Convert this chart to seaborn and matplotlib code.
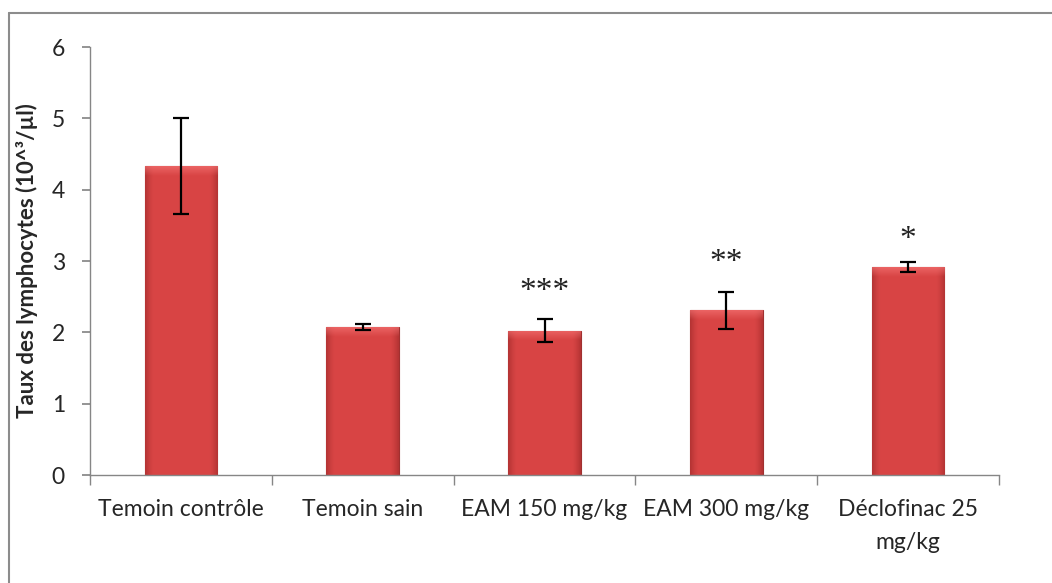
import matplotlib
matplotlib.use("Agg")
import matplotlib.pyplot as plt
import seaborn as sns
import pandas as pd
import numpy as np
from matplotlib.lines import Line2D

categories = ["Temoin contrôle", "Temoin sain", "EAM 150 mg/kg", "EAM 300 mg/kg", "Déclofinac 25\nmg/kg"]
values = [4.33, 2.07, 2.02, 2.31, 2.91]
errors = [0.67, 0.04, 0.16, 0.26, 0.07]
stars = ["", "", "***", "**", "*"]
star_y = [None, None, 2.57, 2.98, 3.3]
yticks = [0, 1, 2, 3, 4, 5, 6]

sns.set_theme(style="white")
plt.rcParams['font.family'] = ['Lato', 'DejaVu Sans']

fig = plt.figure(figsize=(10.52, 5.83), dpi=100)
ax = fig.add_axes([90/1052, 1-475/583, 909/1052, 428/583])

df = pd.DataFrame({"cat": categories, "val": values})
sns.barplot(data=df, x="cat", y="val", ax=ax, width=0.4, color="#D64343",
            edgecolor="#A03030", linewidth=0.8, saturation=1)

# bevel shading clipped to each bar drawn by seaborn
base = np.array([0.85, 0.27, 0.27])
dark = np.array([0.62, 0.16, 0.16])
light = np.array([0.97, 0.47, 0.47])
for p in list(ax.patches):
    x0, w, h = p.get_x(), p.get_width(), p.get_height()
    nx, ny = 60, 400
    xs = np.linspace(0, 1, nx)
    side = np.clip(1 - np.minimum(xs, 1 - xs) / 0.12, 0, 1) ** 1.5
    img = np.tile(base, (ny, nx, 1))
    img = img * (1 - side[None, :, None] * 0.6) + dark * side[None, :, None] * 0.6
    ys = np.linspace(h, 0, ny)
    t = np.clip(1 - (h - ys) / 0.13, 0, 1)[:, None, None] * 0.6
    img = img * (1 - t) + light * t
    im = ax.imshow(img, extent=[x0, x0 + w, 0, h], aspect="auto", zorder=p.get_zorder() + 0.1,
                   interpolation="bilinear")
    im.set_clip_path(p)

ax.errorbar(range(len(categories)), values, yerr=errors, fmt="none",
            ecolor="black", elinewidth=1.6, capsize=6, capthick=1.6, zorder=5)
for i, s in enumerate(stars):
    if s:
        ax.text(i, star_y[i], s, ha="center", va="center", fontsize=24,
                family=["Liberation Serif", "DejaVu Serif"], color="#222222")

ax.set_xlim(-0.5, len(categories) - 0.5)
ax.set_ylim(0, 6)
ax.set_yticks(yticks)
ax.set_yticklabels([str(t) for t in yticks], fontsize=16.5)
ax.set_xticks(range(len(categories)))
ax.set_xticklabels(categories, fontsize=16.5, linespacing=1.7)
ax.tick_params(axis="x", length=0, pad=17)
ax.tick_params(axis="y", length=6, direction="out", color="#868686", left=True, pad=12)
ax.set_xticks([i - 0.5 for i in range(len(categories) + 1)], minor=True)
ax.tick_params(axis="x", which="minor", length=7, direction="out", color="#868686", bottom=True)
for sp in ["top", "right"]:
    ax.spines[sp].set_visible(False)
for sp in ["left", "bottom"]:
    ax.spines[sp].set_color("#868686")
    ax.spines[sp].set_linewidth(1.0)
ax.set_xlabel("")
ax.set_ylabel("Taux des lymphocytes (10^³/µl)", fontsize=16, fontweight="bold", labelpad=10)

# outer chart frame (left and top edges visible)
fig.add_artist(Line2D([9/1052, 9/1052], [0, 1-13/583], color="#8c8c8c", lw=1.5, transform=fig.transFigure))
fig.add_artist(Line2D([9/1052, 1], [1-13/583, 1-13/583], color="#8c8c8c", lw=1.5, transform=fig.transFigure))

fig.savefig("out.png", dpi=100)
